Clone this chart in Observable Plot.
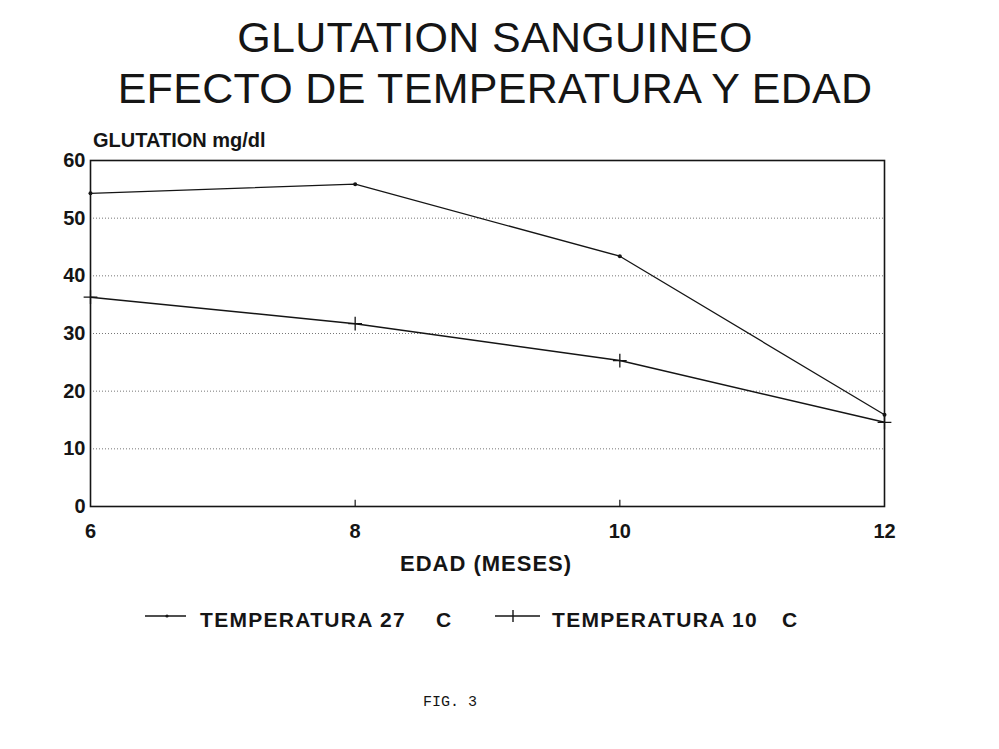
<!DOCTYPE html>
<html>
<head>
<meta charset="utf-8">
<script src="https://cdn.jsdelivr.net/npm/d3@7"></script>
<script src="https://cdn.jsdelivr.net/npm/@observablehq/plot@0.6"></script>
<style>
  html, body { margin: 0; padding: 0; background: #fff; }
  #page { position: relative; width: 999px; height: 749px; overflow: hidden; font-family: "Liberation Sans", Arial, sans-serif; color: #151515; }
  .abs { position: absolute; white-space: nowrap; }
  .title { font-size: 43px; font-weight: normal; left: 0; width: 990px; text-align: center; letter-spacing: 0.3px; }
  #chart { position: absolute; left: 0; top: 0; }
  .legend { font-size: 21px; font-weight: bold; top: 608px; }
  .fig { font-family: "Liberation Mono", "DejaVu Sans Mono", monospace; font-size: 15px; left: 423px; top: 694px; }
</style>
</head>
<body>
<div id="page">
  <div class="abs title" style="top:13px">GLUTATION SANGUINEO</div>
  <div class="abs title" style="top:64px">EFECTO DE TEMPERATURA Y EDAD</div>
  <div id="chart"></div>
  <div class="abs" style="left:93px; top:129px; font-size:20px; font-weight:bold">GLUTATION mg/dl</div>
  <div class="abs" style="left:400px; top:551px; font-size:22px; font-weight:bold; letter-spacing:1px">EDAD (MESES)</div>
  <div id="legend"></div>
  <div class="abs fig">FIG. 3</div>
</div>
<script>
// Months of age
const edad = [6, 8, 10, 12];
// Blood glutathione (mg/dl) by rearing temperature
const temp27 = [54.3, 55.9, 43.4, 15.9];
const temp10 = [36.3, 31.7, 25.3, 14.6];
const seriesNames = ["TEMPERATURA 27", "TEMPERATURA 10"];
const unitLabel = "C";
const yTicks = [0, 10, 20, 30, 40, 50, 60];
const xTicks = [6, 8, 10, 12];
const gridValues = [10, 20, 30, 40, 50];
const innerTicks = [8, 10];

const rows27 = edad.map((x, i) => ({x, y: temp27[i]}));
const rows10 = edad.map((x, i) => ({x, y: temp10[i]}));

const chart = Plot.plot({
  width: 999,
  height: 590,
  marginLeft: 90,
  marginRight: 115,
  marginTop: 160,
  marginBottom: 84,
  style: {fontFamily: "Liberation Sans, Arial, sans-serif", color: "#151515", background: "transparent"},
  x: {domain: [6, 12]},
  y: {domain: [0, 60]},
  marks: [
    Plot.ruleY(gridValues, {stroke: "#777", strokeWidth: 1, strokeDasharray: "1 2"}),
    Plot.ruleX(innerTicks, {y1: 0, y2: 1.1, stroke: "#151515", strokeWidth: 1.2}),
    Plot.frame({stroke: "#151515", strokeWidth: 1.6}),
    Plot.axisY({ticks: yTicks, tickFormat: "d", tickSize: 0, tickPadding: 5, fontSize: 20, fontWeight: "bold", label: null}),
    Plot.axisX({ticks: xTicks, tickFormat: "d", tickSize: 0, tickPadding: 17, fontSize: 20, fontWeight: "bold", label: null}),
    Plot.line(rows27, {x: "x", y: "y", stroke: "#151515", strokeWidth: 1.3}),
    Plot.dot(rows27, {x: "x", y: "y", r: 2, fill: "#151515"}),
    Plot.line(rows10, {x: "x", y: "y", stroke: "#151515", strokeWidth: 1.5}),
    Plot.dot(rows10, {x: "x", y: "y", symbol: "plus", r: 4.5, stroke: "#151515", strokeWidth: 1.3})
  ]
});
document.getElementById("chart").appendChild(chart);

// Legend below the chart
const legend = document.getElementById("legend");
const items = [
  {name: seriesNames[0], lineX: 145, lineW: 41, textX: 200, unitX: 436, symbol: "dot"},
  {name: seriesNames[1], lineX: 495, lineW: 45, textX: 552, unitX: 782, symbol: "plus"}
];
for (const it of items) {
  const svg = d3.create("svg")
    .attr("width", 52).attr("height", 20)
    .style("position", "absolute").style("left", it.lineX + "px").style("top", "606px");
  svg.append("line").attr("x1", 0).attr("x2", it.lineW).attr("y1", 10).attr("y2", 10)
    .attr("stroke", "#151515").attr("stroke-width", 1.4);
  if (it.symbol === "plus") {
    svg.append("line").attr("x1", 18).attr("x2", 18).attr("y1", 4).attr("y2", 16)
      .attr("stroke", "#151515").attr("stroke-width", 1.4);
  } else {
    svg.append("circle").attr("cx", 22).attr("cy", 10).attr("r", 1.6).attr("fill", "#151515");
  }
  legend.appendChild(svg.node());
  const t = document.createElement("div");
  t.className = "abs legend";
  t.style.left = it.textX + "px";
  t.style.letterSpacing = "1.3px";
  t.textContent = it.name;
  legend.appendChild(t);
  const u = document.createElement("div");
  u.className = "abs legend";
  u.style.left = it.unitX + "px";
  u.textContent = unitLabel;
  legend.appendChild(u);
}
</script>
</body>
</html>
